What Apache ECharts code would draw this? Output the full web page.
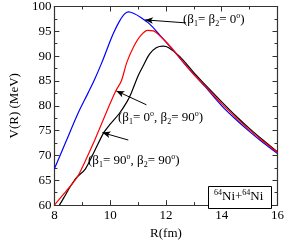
<!DOCTYPE html>
<html>
<head>
<meta charset="utf-8">
<script src="https://cdn.jsdelivr.net/npm/echarts@6/dist/echarts.min.js"></script>
<style>html,body{margin:0;padding:0;background:#fff}#c{width:287px;height:245px}</style>
</head>
<body>
<div id="c"></div>
<script>
// R (fm) and V(R) (MeV)
var blueR = [8.0, 8.4, 8.84, 9.2, 9.44, 9.7, 9.88, 10.1, 10.32, 10.5, 10.65, 10.85, 11.1, 11.41, 11.8, 12.29, 12.8, 13.38, 14.0, 14.5, 15.0, 15.5, 16.0];
var blueV = [67.3, 72.6, 78.4, 82.5, 85.3, 88.7, 91.3, 94.4, 96.9, 98.4, 98.9, 98.6, 97.8, 96.5, 94.1, 91.0, 87.6, 84.0, 80.0, 77.3, 74.8, 72.5, 70.4];
var redR = [8.0, 8.3, 8.6, 8.85, 9.1, 9.4, 9.7, 10.0, 10.2, 10.4, 10.6, 10.85, 11.1, 11.35, 11.55, 11.8, 12.1, 12.5, 13.0, 13.5, 14.0, 14.5, 15.0, 15.5, 16.0];
var redV = [60.0, 62.0, 64.0, 65.9, 68.8, 72.5, 76.5, 80.5, 83.0, 85.0, 88.8, 92.0, 94.2, 95.2, 95.1, 94.0, 92.3, 89.6, 86.3, 83.4, 80.4, 77.7, 75.1, 72.8, 70.6];
var blackR = [8.18, 8.35, 8.6, 8.8, 9.1, 9.44, 9.77, 10.0, 10.32, 10.6, 10.75, 11.0, 11.18, 11.41, 11.65, 11.9, 12.1, 12.5, 13.0, 13.5, 14.0, 14.5, 15.0, 15.5, 16.0];
var blackV = [60.0, 61.6, 64.0, 65.6, 67.2, 70.9, 74.6, 76.3, 78.4, 80.8, 82.5, 86.0, 88.0, 90.4, 91.7, 92.0, 91.7, 89.9, 86.7, 83.7, 80.8, 78.0, 75.4, 73.0, 70.7];
var xTicks = [8, 10, 12, 14, 16];
var yTicks = [60, 65, 70, 75, 80, 85, 90, 95, 100];

function pairs(xs, ys) { return xs.map(function (x, i) { return [x, ys[i]]; }); }

var font = 'Liberation Serif';
var chart = echarts.init(document.getElementById('c'), null, {renderer: 'canvas'});
var axisCommon = {
  type: 'value',
  axisLine: {show: true, lineStyle: {color: '#333', width: 1.2}},
  axisTick: {show: true, inside: true, length: 5, lineStyle: {color: '#333'}},
  minorTick: {show: true, splitNumber: 2, length: 3, lineStyle: {color: '#333'}},
  splitLine: {show: false}
};
var rich = {
  n: {fontFamily: font, fontSize: 13, color: '#000', lineHeight: 16, verticalAlign: 'middle'},
  s: {fontFamily: font, fontSize: 8, color: '#000', lineHeight: 16, verticalAlign: 'bottom', padding: [6, 0, 0, 0]},
  u: {fontFamily: font, fontSize: 8, color: '#000', lineHeight: 16, verticalAlign: 'top', padding: [0, 0, 6, 0]}
};
var arrowLine = function (a, b) {
  return [{coord: a, symbol: 'none'}, {coord: b, symbol: 'arrow', symbolSize: [5, 8]}];
};
var option = {
  animation: false,
  grid: {left: 36, right: 7, top: 4, bottom: 27},
  xAxis: [
    Object.assign({}, axisCommon, {
      min: 8, max: 16, interval: 2, position: 'bottom',
      axisLabel: {fontFamily: font, fontSize: 13, color: '#000', margin: 4,
        formatter: function (v) { return xTicks.indexOf(v) >= 0 ? String(v) : ''; }},
      name: 'R(fm)', nameLocation: 'middle', nameGap: 19,
      nameTextStyle: {fontFamily: font, fontSize: 13, color: '#000'}
    }),
    Object.assign({}, axisCommon, {min: 8, max: 16, interval: 2, position: 'top', axisLabel: {show: false}})
  ],
  yAxis: [
    Object.assign({}, axisCommon, {
      min: 60, max: 100, interval: 5, position: 'left',
      axisLabel: {fontFamily: font, fontSize: 13, color: '#000', margin: 3,
        formatter: function (v) { return yTicks.indexOf(v) >= 0 ? String(v) : ''; }},
      name: 'V(R) (MeV)', nameLocation: 'middle', nameGap: 26,
      nameTextStyle: {fontFamily: font, fontSize: 13, color: '#000'}
    }),
    Object.assign({}, axisCommon, {min: 60, max: 100, interval: 5, position: 'right', axisLabel: {show: false}})
  ],
  series: [
    {type: 'line', data: pairs(blueR, blueV), smooth: 0.3, showSymbol: false,
     lineStyle: {color: '#0000ff', width: 1.2}, z: 3,
     markLine: {silent: true, symbol: ['none', 'arrow'], lineStyle: {color: '#000', width: 1, type: 'solid'},
       label: {show: false},
       data: [arrowLine([12.72, 96.7], [11.25, 97.3]),
              arrowLine([11.30, 80.2], [10.22, 83.0]),
              arrowLine([10.65, 73.1], [9.72, 74.6])]}},
    {type: 'line', data: pairs(redR, redV), smooth: 0.3, showSymbol: false,
     lineStyle: {color: '#ff0000', width: 1.2}, z: 4},
    {type: 'line', data: pairs(blackR, blackV), smooth: 0.3, showSymbol: false,
     lineStyle: {color: '#000000', width: 1.2}, z: 2}
  ],
  graphic: [
    {type: 'text', left: 183, top: 12, style: {rich: rich,
      text: '{n|(β}{s|1}{n|= β}{s|2}{n|= 0}{u|o}{n|)}'}},
    {type: 'text', left: 118, top: 110, style: {rich: rich,
      text: '{n|(β}{s|1}{n|= 0}{u|o}{n|, β}{s|2}{n|= 90}{u|o}{n|)}'}},
    {type: 'text', left: 88, top: 153, style: {rich: rich,
      text: '{n|(β}{s|1}{n|= 90}{u|o}{n|, β}{s|2}{n|= 90}{u|o}{n|)}'}},
    {type: 'rect', shape: {x: 208.5, y: 186.5, width: 63, height: 22},
      style: {fill: '#fff', stroke: '#000', lineWidth: 1}, z: 10},
    {type: 'text', left: 214, top: 189, z: 11, style: {rich: rich,
      text: '{u|64}{n|Ni+}{u|64}{n|Ni}'}}
  ]
};
chart.setOption(option);
</script>
</body>
</html>
